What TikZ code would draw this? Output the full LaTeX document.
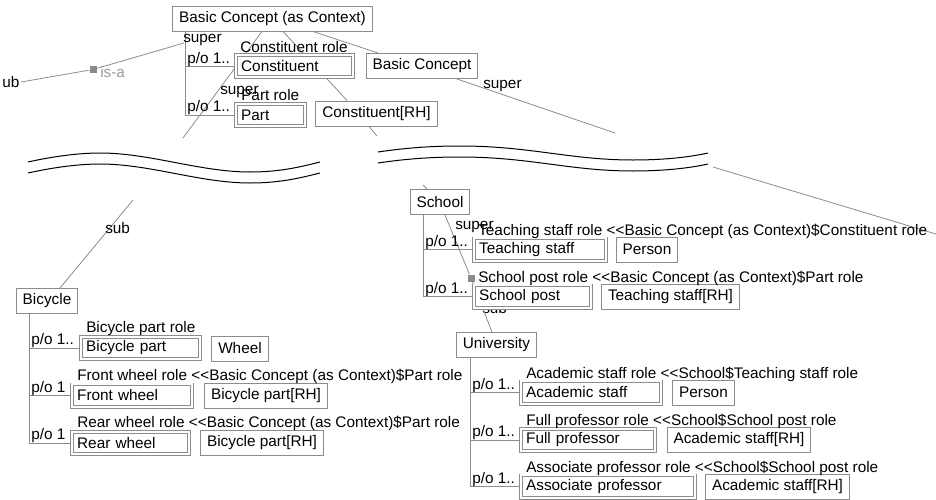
\documentclass[tikz,border=0pt]{standalone}
\usepackage{fontspec}
\setmainfont{Liberation Sans}
\usetikzlibrary{backgrounds}
\definecolor{boxgray}{HTML}{8C8C8C}
\definecolor{linegray}{HTML}{8C8C8C}
\definecolor{markgray}{HTML}{8A8A8A}
\definecolor{isagray}{HTML}{9A9A9A}

\begin{document}
\begin{tikzpicture}[x=0.75pt,y=0.75pt,yscale=-1,
  every node/.style={font=\fontsize{11.5}{13.8}\selectfont},
  cbox/.style={draw=boxgray,fill=white,line width=0.75pt,minimum height=18.75pt,inner xsep=4.8pt,inner ysep=0pt},
  rbox/.style={draw=boxgray,fill=white,line width=0.6pt,double=white,double distance=1.5pt,minimum height=16.8pt,inner xsep=4pt,inner ysep=0pt,align=left},
  lbl/.style={inner sep=0pt,anchor=base west},
  conn/.style={draw=linegray,line width=0.6pt},
  isamark/.style={fill=markgray,inner sep=0pt,minimum size=5.25pt}]
\useasboundingbox (0,0) rectangle (936,500);

%Shape: Concept boxes (upper part)
\node[cbox] (ctx) at (272.5,18.5) {Basic Concept (as Context)};
\node[rbox,text width=80pt] (con) at (294.5,66) {Constituent};
\node[cbox] (bc) at (422,66) {Basic Concept};
\node[rbox,text width=44pt] (part) at (270.5,115) {Part};
\node[cbox] (crh) at (376.5,113.5) {Constituent[RH]};

%Shape: School
\node[cbox] (school) at (440,202) {School};
\node[rbox,text width=91.3pt] (tstaff) at (540,249.5) {Teaching staff};
\node[cbox] (person) at (647,249.5) {Person};
\node[rbox,text width=80pt] (spost) at (532.5,296.5) {School post};
\node[cbox] (tsrh) at (670.5,296.5) {Teaching staff[RH]};

%Shape: University
\node[cbox] (univ) at (496.5,345) {University};
\node[rbox,text width=97.3pt] (astaff) at (591,392.5) {Academic staff};
\node[cbox] (persontwo) at (703.5,392.5) {Person};
\node[rbox,text width=92.8pt] (fprof) at (588,440) {Full professor};
\node[cbox] (asrh) at (739,440) {Academic staff[RH]};
\node[rbox,text width=122.8pt] (aprof) at (608,486.5) {Associate professor};
\node[cbox] (asrhtwo) at (777.5,486.5) {Academic staff[RH]};

%Shape: Bicycle
\node[cbox] (bicycle) at (47,301) {Bicycle};
\node[rbox,text width=81.5pt] (bpart) at (140.5,348) {Bicycle part};
\node[cbox] (wheel) at (240,348.5) {Wheel};
\node[rbox,text width=82.3pt] (fwheel) at (132,395.5) {Front wheel};
\node[cbox] (bprh) at (266,395.5) {Bicycle part[RH]};
\node[rbox,text width=80pt] (rwheel) at (130.5,443) {Rear wheel};
\node[cbox] (bprhtwo) at (262,443) {Bicycle part[RH]};

%Shape: is-a marks
\node[isamark] (isaone) at (93,69.5) {};
\node[isamark] (isatwo) at (471,278) {};

% Text Node
\node[inner sep=1pt,anchor=east] (ub) at (21,82) {ub};
% Text Node
\node[lbl,text=isagray] (isalbl) at (100,77.5) {is-a};

% Text Node
\node[lbl] (conrole) at (240,52) {Constituent role};
\node[lbl] (partrole) at (241,100.5) {Part role};
\node[lbl] (tsrole) at (478,235.5) {Teaching staff role <{}<Basic Concept (as Context)\$Constituent role};
\node[lbl] (sprole) at (478,282) {School post role <{}<Basic Concept (as Context)\$Part role};
\node[lbl] (asrole) at (526,378.5) {Academic staff role <{}<School\$Teaching staff role};
\node[lbl] (fprole) at (526,425.5) {Full professor role <{}<School\$School post role};
\node[lbl] (aprole) at (526,472.5) {Associate professor role <{}<School\$School post role};
\node[lbl] (bprole) at (86,332.5) {Bicycle part role};
\node[lbl] (fwrole) at (77,380.5) {Front wheel role <{}<Basic Concept (as Context)\$Part role};
\node[lbl] (rwrole) at (77,427.5) {Rear wheel role <{}<Basic Concept (as Context)\$Part role};

% Text Node
\node[lbl] (potopone) at (187,63) {p/o 1..};
\node[lbl] (potoptwo) at (187,111.5) {p/o 1..};
\node[lbl] (poschone) at (425,246) {p/o 1..};
\node[lbl] (poschtwo) at (425,293) {p/o 1..};
\node[lbl] (pounione) at (472,389) {p/o 1..};
\node[lbl] (pounitwo) at (472,436.5) {p/o 1..};
\node[lbl] (pounithree) at (472,483) {p/o 1..};
\node[lbl] (pobicone) at (31,344.5) {p/o 1..};
\node[lbl] (pobictwo) at (31,392) {p/o 1};
\node[lbl] (pobicthree) at (31,439.5) {p/o 1};

% Text Node
\node[lbl] (supctx) at (183,42) {super};
\node[lbl] (suppart) at (220,94) {super};
\node[lbl] (supbc) at (483,88) {super};
\node[lbl] (subbic) at (105,233) {sub};
\node[lbl] (supsch) at (455,229) {super};

\begin{scope}[on background layer]
% Text Node
\node[lbl] (subuni) at (482,313) {sub};
\coordinate (supend) at (184,43);
\coordinate (cutpa) at (183,138);
\coordinate (cutpb) at (133,200);
\coordinate (cutca) at (377,136);
\coordinate (cutcb) at (423,185);
\coordinate (cutra) at (615,133);
\coordinate (cutrb) at (713,167);
\coordinate (rightend) at (936,234);

%Straight Lines
\draw[conn] (185,0 |- ctx.south) -- (185,0 |- part.west) -- (part.west);
\draw[conn] (185,0 |- con.west) -- (con.west);
%Straight Lines
\draw[conn] (423,0 |- school.south) -- (423,0 |- spost.west) -- (spost.west);
\draw[conn] (423,0 |- tstaff.west) -- (tstaff.west);
%Straight Lines
\draw[conn] (470,0 |- univ.south) -- (470,0 |- aprof.west) -- (aprof.west);
\draw[conn] (470,0 |- astaff.west) -- (astaff.west);
\draw[conn] (470,0 |- fprof.west) -- (fprof.west);
%Straight Lines
\draw[conn] (29,0 |- bicycle.south) -- (29,0 |- rwheel.west) -- (rwheel.west);
\draw[conn] (29,0 |- bpart.west) -- (bpart.west);
\draw[conn] (29,0 |- fwheel.west) -- (fwheel.west);

%Straight Lines
\draw[conn] (ub.east) -- (isaone) -- (supend);
\draw[conn] ([xshift=-7.9pt]ctx.south) -- (cutpa);
\draw[conn] (cutpb) -- ([xshift=9.75pt]bicycle.north);
\draw[conn] ([xshift=7.9pt]ctx.south) -- ([xshift=-22.1pt]crh.north);
\draw[conn] ([xshift=-5.6pt]crh.south) -- (cutca);
\draw[conn] (cutcb) -- ([xshift=-9.75pt]school.north);
\draw[conn] ([xshift=30.4pt]ctx.south) -- ([xshift=-33pt]bc.north);
\draw[conn] ([xshift=26.25pt]bc.south) -- (cutra);
\draw[conn] (cutrb) -- (rightend);
\draw[conn] ([xshift=3.75pt]school.south) -- (isatwo) -- ([xshift=-3.4pt]univ.north);
\end{scope}

%Shape: Break lines
\draw[line width=0.75pt] (28,162) .. controls (55,156) and (80,153) .. (100,153) .. controls (150,153) and (200,172) .. (250,172) .. controls (280,172) and (300,167) .. (320,162);
\draw[line width=0.75pt] (28,173) .. controls (55,167) and (80,164) .. (100,164) .. controls (150,164) and (200,183) .. (250,183) .. controls (280,183) and (300,178) .. (320,173);
\draw[line width=0.75pt] (378,152) .. controls (405,148) and (430,146) .. (460,146) .. controls (530,146) and (570,160) .. (633,160) .. controls (665,160) and (690,157) .. (708,153);
\draw[line width=0.75pt] (378,163) .. controls (405,159) and (430,157) .. (460,157) .. controls (530,157) and (570,171) .. (633,171) .. controls (665,171) and (690,168) .. (708,164);

\end{tikzpicture}
\end{document}
